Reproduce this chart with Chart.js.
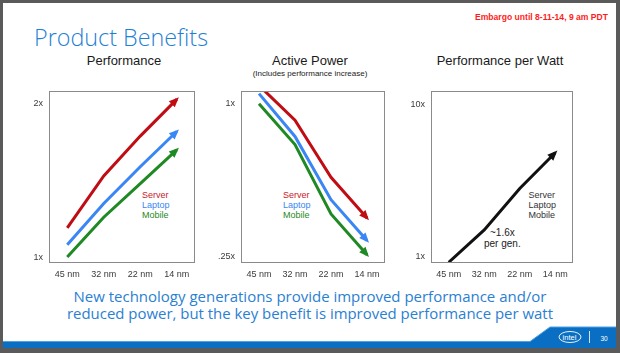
<!DOCTYPE html>
<html>
<head>
<meta charset="utf-8">
<script src="https://cdn.jsdelivr.net/npm/chart.js@4/dist/chart.umd.min.js"></script>
<style>
html, body { margin: 0; padding: 0; background: #fff; }
#slide { position: relative; width: 620px; height: 353px; overflow: hidden; background: #fff; font-family: "Liberation Sans", Arial, sans-serif; }
.t { position: absolute; white-space: nowrap; line-height: 1; }
.c { transform-origin: 50% 50%; transform: translateX(-50%); }
canvas { position: absolute; }
.bar { position: absolute; background: #5a5a5a; }
</style>
</head>
<body>
<div id="slide">
  <div class="bar" style="left:0;top:0;width:620px;height:3px"></div>
  <div class="bar" style="left:0;top:0;width:3px;height:353px"></div>
  <div class="bar" style="left:616px;top:0;width:4px;height:353px"></div>
  <div class="bar" style="left:0;top:348px;width:620px;height:5px"></div>

  <svg style="position:absolute;left:0;top:0" width="620" height="353">
    <polygon points="3,341.5 530,341.5 550,327 616,327 616,348 3,348" fill="#0a6fc2"/>
    <polyline points="3,341.5 530,341.5 550,327 616,327" fill="none" stroke="#4fa2e4" stroke-width="1"/>
    <ellipse cx="570" cy="337" rx="11" ry="5.5" fill="none" stroke="#fff" stroke-width="0.9"/>
    <text x="569.5" y="339.6" fill="#fff" font-size="7.5" font-family="Liberation Sans, Arial" text-anchor="middle">intel</text>
    <line x1="589.5" y1="331" x2="589.5" y2="343" stroke="#cfe3f5" stroke-width="1"/>
    <text x="604" y="340.5" fill="#fff" font-size="6.5" font-family="Liberation Sans, Arial" text-anchor="middle">30</text>
  </svg>

  <div class="t fit" data-w="133" style="left:475px;top:12.5px;font-size:8.5px;font-weight:bold;color:#ff1c1c">Embargo until 8-11-14, 9 am PDT</div>
  <div class="t fit" data-w="174" style="left:34px;top:24.5px;font-size:24px;font-family:'Open Sans',sans-serif;font-weight:300;color:#1f7fd4">Product Benefits</div>

  <div class="t c" style="left:124px;top:54px;font-size:13px;color:#1a1a1a">Performance</div>
  <div class="t c" style="left:310px;top:54px;font-size:13px;color:#1a1a1a">Active Power</div>
  <div class="t c" style="left:310px;top:70px;font-size:8px;color:#1a1a1a">(Includes performance increase)</div>
  <div class="t c" style="left:500px;top:54px;font-size:13px;color:#1a1a1a">Performance per Watt</div>

  <div class="t" style="left:142px;top:190.5px;font-size:9px;color:#c8202a">Server</div>
  <div class="t" style="left:142px;top:200.8px;font-size:9px;color:#3a86f5">Laptop</div>
  <div class="t" style="left:142px;top:210.8px;font-size:9px;color:#1f8a24">Mobile</div>

  <div class="t" style="left:283px;top:190.5px;font-size:9px;color:#c8202a">Server</div>
  <div class="t" style="left:283px;top:200.8px;font-size:9px;color:#3a86f5">Laptop</div>
  <div class="t" style="left:283px;top:210.8px;font-size:9px;color:#1f8a24">Mobile</div>

  <div class="t" style="left:528.5px;top:190.5px;font-size:9px;color:#333">Server</div>
  <div class="t" style="left:528.5px;top:200.8px;font-size:9px;color:#333">Laptop</div>
  <div class="t" style="left:528.5px;top:210.8px;font-size:9px;color:#333">Mobile</div>
  <div class="t" style="left:490px;top:227.7px;font-size:10px;color:#222">~1.6x</div>
  <div class="t" style="left:484px;top:239.3px;font-size:10px;color:#222">per gen.</div>

  <div class="t c fit" data-w="473" style="left:309.7px;top:289px;font-size:15px;font-family:'Open Sans',sans-serif;color:#2a80d2">New technology generations provide improved performance and/or</div>
  <div class="t c fit" data-w="486" style="left:309.7px;top:306px;font-size:15px;font-family:'Open Sans',sans-serif;color:#2a80d2">reduced power, but the key benefit is improved performance per watt</div>

  <canvas id="perf" width="191" height="200" style="left:14px;top:80px"></canvas>
  <canvas id="power" width="189" height="200" style="left:206px;top:80px"></canvas>
  <canvas id="ppw" width="187" height="200" style="left:396px;top:80px"></canvas>
</div>

<script>
// process nodes on the x axis
const nodes = ['45 nm', '32 nm', '22 nm', '14 nm']

// Performance (relative)
const perfServer = [1.19, 1.53, 1.79, 2.03]
const perfLaptop = [1.08, 1.35, 1.59, 1.82]
const perfMobile = [1.00, 1.26, 1.48, 1.70]
const perfTicks = [1, 2]
const perfTickLabels = ['1x', '2x']

// Active power (relative)
const powerServer = [1.09, 0.92, 0.64, 0.44]
const powerLaptop = [1.05, 0.84, 0.53, 0.33]
const powerMobile = [1.00, 0.80, 0.46, 0.26]
const powerTicks = [0.25, 1]
const powerTickLabels = ['.25x', '1x']

// Performance per watt (log scale)
const ppwAll = [0.92, 1.5, 2.8, 4.8]
const ppwTicks = [1, 10]
const ppwTickLabels = ['1x', '10x']

const RED = '#c00d14'
const BLUE = '#3a86f5'
const GREEN = '#1f8a24'
const FONT = '"Liberation Sans", Arial, sans-serif'

// gray box round the plot area
const frame = {
    id: 'frame',
    afterDraw(chart) {
        const a = chart.chartArea
        const ctx = chart.ctx
        ctx.save()
        ctx.strokeStyle = '#8a8a8a'
        ctx.lineWidth = 1
        ctx.strokeRect(Math.round(a.left) + 0.5, Math.round(a.top) + 0.5, Math.round(a.right - a.left) - 1, Math.round(a.bottom - a.top) - 1)
        ctx.restore()
    }
}

// arrow head at the end of every line
const arrowHeads = {
    id: 'arrowHeads',
    afterDatasetsDraw(chart) {
        const ctx = chart.ctx
        chart.data.datasets.forEach((ds, i) => {
            const pts = chart.getDatasetMeta(i).data
            const a = pts[pts.length - 2]
            const b = pts[pts.length - 1]
            const ang = Math.atan2(b.y - a.y, b.x - a.x)
            ctx.save()
            ctx.translate(b.x, b.y)
            ctx.rotate(ang)
            ctx.fillStyle = ds.borderColor
            ctx.beginPath()
            ctx.moveTo(3, 0)
            ctx.lineTo(-7, -4.2)
            ctx.lineTo(-7, 4.2)
            ctx.closePath()
            ctx.fill()
            ctx.restore()
        })
    }
}

const line = (values, color) => ({
    data: values,
    borderColor: color,
    borderWidth: 3,
    pointRadius: 0,
    tension: 0,
    fill: false,
    clip: 0
})

const makeChart = (id, datasets, yType, yMin, yMax, ticks, tickLabels) => {
    const grafica = document.getElementById(id).getContext('2d')
    return new Chart(grafica, {
        type: 'line',
        data: { labels: nodes, datasets: datasets },
        options: {
            responsive: false,
            animation: false,
            events: [],
            layout: { padding: { top: 9, right: 10, left: 0, bottom: 0 } },
            plugins: { legend: { display: false }, tooltip: { enabled: false } },
            scales: {
                x: {
                    type: 'category',
                    offset: true,
                    grid: { display: false, drawTicks: false },
                    border: { display: false },
                    ticks: { color: '#3a3a3a', font: { size: 9, family: FONT }, padding: 6, maxRotation: 0, autoSkip: false },
                    afterFit(s) { s.height = 17 }
                },
                y: {
                    type: yType,
                    min: yMin,
                    max: yMax,
                    grid: { display: false, drawTicks: false },
                    border: { display: false },
                    ticks: {
                        color: '#3a3a3a',
                        font: { size: 9, family: FONT },
                        padding: 6,
                        autoSkip: false,
                        callback: (v) => tickLabels[ticks.indexOf(v)]
                    },
                    afterBuildTicks(s) { s.ticks = ticks.map(v => ({ value: v })) },
                    afterFit(s) { s.width = 35 }
                }
            }
        },
        plugins: [frame, arrowHeads]
    })
}

makeChart('perf', [line(perfServer, RED), line(perfLaptop, BLUE), line(perfMobile, GREEN)],
    'linear', 0.961, 2.082, perfTicks, perfTickLabels)
makeChart('power', [line(powerServer, RED), line(powerLaptop, BLUE), line(powerMobile, GREEN)],
    'linear', 0.2195, 1.061, powerTicks, powerTickLabels)
makeChart('ppw', [line(ppwAll, '#111111')],
    'logarithmic', 0.91, 12.1, ppwTicks, ppwTickLabels)

// squeeze the wide texts to the widths seen in the slide
document.querySelectorAll('.fit').forEach(el => {
    const w = el.getBoundingClientRect().width
    const k = Number(el.dataset.w) / w
    if (el.classList.contains('c')) {
        el.style.transform = `translateX(-50%) scaleX(${k})`
    } else {
        el.style.transformOrigin = '0 0'
        el.style.transform = `scaleX(${k})`
    }
})
</script>
</body>
</html>
